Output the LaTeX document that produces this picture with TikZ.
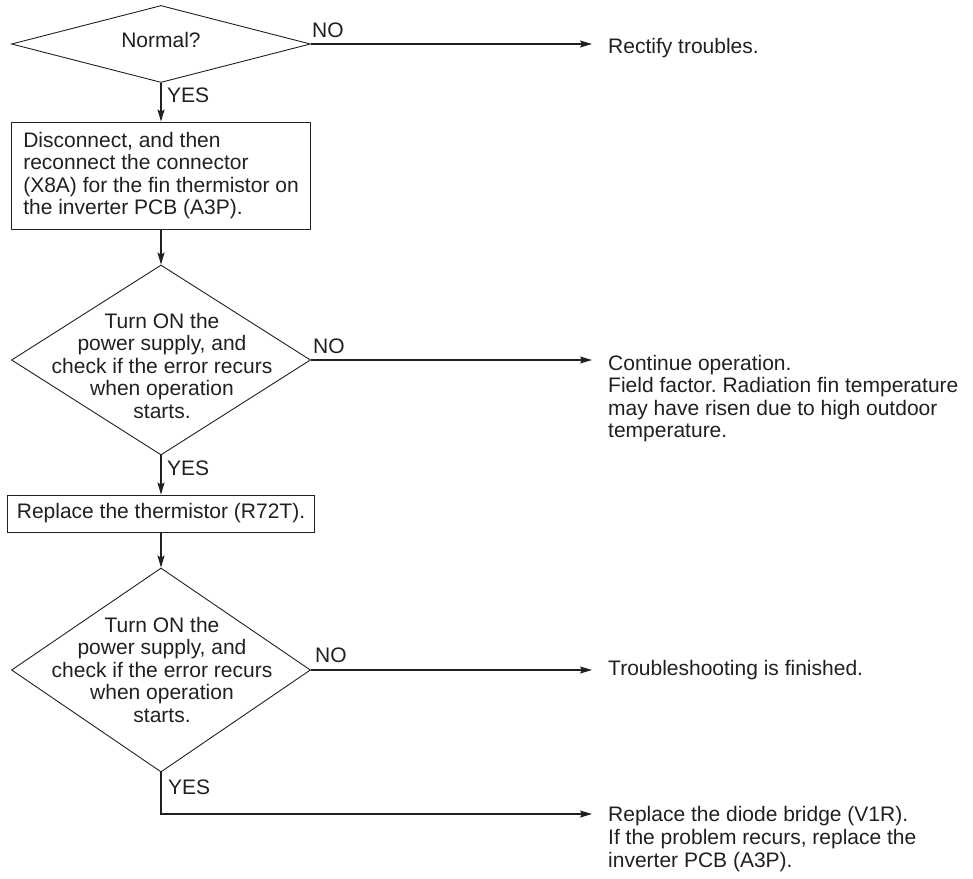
\documentclass[tikz,border=0pt]{standalone}
\usepackage{fontspec}
\setmainfont{Liberation Sans}
\usetikzlibrary{shapes.geometric,arrows.meta}
\definecolor{ink}{HTML}{231F20}
\frenchspacing
\begin{document}
\begin{tikzpicture}[x=1pt,y=1pt,
  txt/.style={font=\fontsize{21}{22.5}\selectfont, text=ink, inner sep=0pt},
  dia/.style={shape=diamond, draw=ink, line width=0.9pt, inner sep=0pt, minimum width=299pt},
  stepbox/.style={rectangle, draw=ink, line width=0.9pt, txt, inner xsep=9.5pt, inner ysep=0pt,
                  align=left, minimum width=299pt},
  lbl/.style={txt, anchor=base west},
  conn/.style={draw=ink, line width=1.1pt},
  arr/.style={conn, -{Stealth[length=12pt,width=7pt,inset=2pt]}},
  totext/.style={arr, shorten >=16pt},
]
\useasboundingbox (0,0) rectangle (973,-878);

% decisions and steps on the left column
\node[dia, minimum height=77pt] (d1) at (161,-44) {};
\node[txt, anchor=base] (t1) at (161,-47) {Normal?};

\node[stepbox, minimum height=107pt] (b1) at (161,-175.5)
  {Disconnect, and then\\reconnect the connector\\(X8A) for the fin thermistor on\\the inverter PCB (A3P).};

\node[dia, minimum height=190pt] (d2) at (161,-360) {};
\node[txt, align=center, anchor=base] (t2) at (162,-418)
  {Turn ON the\\power supply, and\\check if the error recurs\\when operation\\starts.};

\node[stepbox, minimum height=37pt] (b2) at (161,-513.5) {Replace the thermistor (R72T).};

\node[dia, minimum height=204pt] (d3) at (161,-670) {};
\node[txt, align=center, anchor=base] (t3) at (162,-722)
  {Turn ON the\\power supply, and\\check if the error recurs\\when operation\\starts.};

% outcomes on the right
\node[lbl] (r1) at (608,-53) {Rectify troubles.};
\node[lbl, align=left] (r2) at (608,-437.5)
  {Continue operation.\\Field factor. Radiation fin temperature\\may have risen due to high outdoor\\temperature.};
\node[lbl] (r3) at (608,-675) {Troubleshooting is finished.};
\node[lbl, align=left, font=\fontsize{21}{23}\selectfont] (r4) at (608,-867)
  {Replace the diode bridge (V1R).\\If the problem recurs, replace the\\inverter PCB (A3P).};

% branch labels
\node[lbl] (n1) at (312,-37) {NO};
\node[lbl] (y1) at (167,-102) {YES};
\node[lbl] (n2) at (313,-353) {NO};
\node[lbl] (y2) at (167,-475) {YES};
\node[lbl] (n3) at (315,-662) {NO};
\node[lbl] (y3) at (168,-794) {YES};

% connectors
\draw[arr] (d1.south) -- (b1.north);
\draw[arr] (b1.south) -- (d2.north);
\draw[arr] (d2.south) -- (b2.north);
\draw[arr] (b2.south) -- (d3.north);
\draw[totext] (d1.east) -- (d1.east -| r1.west);
\draw[totext] (d2.east) -- (d2.east -| r2.west);
\draw[totext] (d3.east) -- (d3.east -| r3.west);
\coordinate (bend) at (161,-814);
\draw[totext] (d3.south) -- (bend) -- (bend -| r4.west);
\end{tikzpicture}
\end{document}
